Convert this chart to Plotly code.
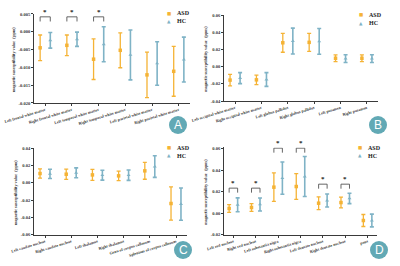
import plotly.graph_objects as go

# ---------------- data ----------------
cats_A = ["Left frontal white matter", "Right frontal white matter", "Left temporal white matter",
          "Right temporal white matter", "Left parietal white matter", "Right parietal white matter"]
asd_A = [-0.0045, -0.0038, -0.0077, -0.0052, -0.0121, -0.0111]
asd_A_sd = [0.0036, 0.0029, 0.0057, 0.0049, 0.0064, 0.0070]
hc_A = [-0.0024, -0.0021, -0.0035, -0.0065, -0.0089, -0.0078]
hc_A_sd = [0.0022, 0.0020, 0.0049, 0.0070, 0.0061, 0.0063]
sig_A = [0, 1, 2]
sig_A_top = [0.0042, 0.0042, 0.0042]
ticks_A = [0.005, 0.0, -0.005, -0.010, -0.015, -0.020]
ticktext_A = ["0.005", "0.000", "-0.005", "-0.010", "-0.015", "-0.020"]

cats_B = ["Left occipital white matter", "Right occipital white matter", "Left globus pallidus",
          "Right globus pallidus", "Left putamen", "Right putamen"]
asd_B = [-0.0157, -0.0154, 0.0277, 0.0282, 0.0097, 0.0097]
asd_B_sd = [0.0067, 0.0056, 0.0110, 0.0104, 0.0040, 0.0040]
hc_B = [-0.0134, -0.0150, 0.0297, 0.0293, 0.0092, 0.0093]
hc_B_sd = [0.0064, 0.0080, 0.0150, 0.0150, 0.0045, 0.0045]
ticks_B = [0.06, 0.04, 0.02, 0.0, -0.02, -0.04]
ticktext_B = ["0.06", "0.04", "0.02", "0.00", "-0.02", "-0.04"]

cats_C = ["Left caudate nucleus", "Right caudate nucleus", "Left thalamus", "Right thalamus",
          "Genu of corpus callosum", "Splenium of corpus callosum"]
asd_C = [0.0108, 0.0100, 0.0092, 0.0081, 0.0139, -0.0239]
asd_C_sd = [0.0054, 0.0060, 0.0063, 0.0055, 0.0097, 0.0193]
hc_C = [0.0104, 0.0116, 0.0089, 0.0089, 0.0189, -0.0246]
hc_C_sd = [0.0054, 0.0057, 0.0057, 0.0060, 0.0125, 0.0187]
ticks_C = [0.04, 0.02, 0.0, -0.02, -0.04, -0.06]
ticktext_C = ["0.04", "0.02", "0.00", "-0.02", "-0.04", "-0.06"]

cats_D = ["Left red nucleus", "Right red nucleus", "Left substantia nigra", "Right substantia nigra",
          "Left dentate nucleus", "Right dentate nucleus", "pons"]
asd_D = [0.0044, 0.0053, 0.0242, 0.0248, 0.0093, 0.0099, -0.0068]
asd_D_sd = [0.0036, 0.0036, 0.0133, 0.0120, 0.0059, 0.0050, 0.0056]
hc_D = [0.0078, 0.0081, 0.0326, 0.0341, 0.0118, 0.0137, -0.0068]
hc_D_sd = [0.0064, 0.0060, 0.0150, 0.0186, 0.0060, 0.0048, 0.0059]
sig_D = [0, 1, 2, 3, 4, 5]
sig_D_top = [0.0233, 0.0233, 0.0605, 0.0605, 0.0270, 0.0270]
ticks_D = [0.06, 0.04, 0.02, 0.0, -0.02]
ticktext_D = ["0.06", "0.04", "0.02", "0.00", "-0.02"]

groups = ["ASD", "HC"]
panel_letters = ["A", "B", "C", "D"]

# ---------------- style ----------------
ASD_COLOR = "#F5B335"
HC_COLOR = "#7FB3C6"
AX_COLOR = "#3a3a3a"
SERIF = "Liberation Serif, Times New Roman, serif"
OFF = 0.19

panels = [
    dict(cats=cats_A, asd=asd_A, asd_sd=asd_A_sd, hc=hc_A, hc_sd=hc_A_sd, sig=sig_A, sig_top=sig_A_top,
         leg=0.0013, ticks=ticks_A, tt=ticktext_A, yr=[-0.020, 0.005],
         xd=[0.085, 0.475], yd=[0.6128, 0.9474], legpos=(169, 13)),
    dict(cats=cats_B, asd=asd_B, asd_sd=asd_B_sd, hc=hc_B, hc_sd=hc_B_sd, sig=[], sig_top=[],
         leg=0.0, ticks=ticks_B, tt=ticktext_B, yr=[-0.04, 0.06],
         xd=[0.56, 0.945], yd=[0.6203, 0.9436], legpos=(361, 15)),
    dict(cats=cats_C, asd=asd_C, asd_sd=asd_C_sd, hc=hc_C, hc_sd=hc_C_sd, sig=[], sig_top=[],
         leg=0.0, ticks=ticks_C, tt=ticktext_C, yr=[-0.06, 0.04],
         xd=[0.085, 0.4675], yd=[0.1177, 0.4425], legpos=(169, 147.5)),
    dict(cats=cats_D, asd=asd_D, asd_sd=asd_D_sd, hc=hc_D, hc_sd=hc_D_sd, sig=sig_D, sig_top=sig_D_top,
         leg=0.0042, ticks=ticks_D, tt=ticktext_D, yr=[-0.02, 0.0612],
         xd=[0.56, 0.9425], yd=[0.1177, 0.4459], legpos=(360, 147.7)),
]

letter_pos = [(178, 125), (378, 125), (183, 250), (379, 250)]
legend_glyphs = ["■", "▲"]
legend_colors = [ASD_COLOR, HC_COLOR]

fig = go.Figure()
annotations = []
shapes = []

for k, p in enumerate(panels):
    sfx = "" if k == 0 else str(k + 1)
    xa, ya = "x" + sfx, "y" + sfx
    n = len(p["cats"])
    xs = list(range(n))
    fig.add_trace(go.Scatter(
        x=[i - OFF for i in xs], y=p["asd"], mode="markers", name=groups[0],
        xaxis=xa, yaxis=ya, showlegend=False,
        marker=dict(symbol="square", size=3.5, color=ASD_COLOR),
        error_y=dict(type="data", array=p["asd_sd"], color=ASD_COLOR, thickness=1.3, width=2),
        cliponaxis=False))
    fig.add_trace(go.Scatter(
        x=[i + OFF for i in xs], y=p["hc"], mode="markers", name=groups[1],
        xaxis=xa, yaxis=ya, showlegend=False,
        marker=dict(symbol="triangle-up", size=3.5, color=HC_COLOR),
        error_y=dict(type="data", array=p["hc_sd"], color=HC_COLOR, thickness=1.6, width=2),
        cliponaxis=False))
    # significance brackets
    for gi, top in zip(p["sig"], p["sig_top"]):
        fig.add_trace(go.Scatter(
            x=[gi - OFF, gi - OFF, gi + OFF, gi + OFF],
            y=[top - p["leg"], top, top, top - p["leg"]],
            mode="lines", line=dict(color="#555555", width=0.9),
            xaxis=xa, yaxis=ya, showlegend=False, hoverinfo="skip"))
        annotations.append(dict(x=gi, y=top, xref=xa, yref=ya, text="*", showarrow=False,
                                yanchor="middle", yshift=5,
                                font=dict(family=SERIF, size=7, color="#222222", weight="bold")))
    fig.update_layout(**{
        "xaxis" + sfx: dict(domain=p["xd"], anchor=ya, range=[-0.42, n - 1 + 0.42],
                            tickvals=xs, ticktext=p["cats"], tickangle=-17,
                            showline=True, linecolor=AX_COLOR, linewidth=0.8,
                            ticks="outside", ticklen=2, tickwidth=0.8, tickcolor=AX_COLOR,
                            showgrid=False, zeroline=False, automargin=False,
                            tickfont=dict(family=SERIF, size=4, color="#333333", weight="bold")),
        "yaxis" + sfx: dict(domain=p["yd"], anchor=xa, range=p["yr"],
                            tickvals=p["ticks"], ticktext=p["tt"],
                            showline=True, linecolor=AX_COLOR, linewidth=0.8,
                            ticks="outside", ticklen=2, tickwidth=0.8, tickcolor=AX_COLOR,
                            showgrid=False, zeroline=False, automargin=False,
                            tickfont=dict(family=SERIF, size=4.5, color="#333333", weight="bold"),
                            title=dict(text="magnetic susceptibility value（ppm）", standoff=3,
                                       font=dict(family=SERIF, size=4.2, color="#333333", weight="bold"))),
    })
    # manual legend (paper coordinates)
    lx, ly = p["legpos"]
    for j in range(2):
        yy = ly + j * 8.2
        annotations.append(dict(x=lx / 400, y=1 - yy / 266, xref="paper", yref="paper",
                                text=legend_glyphs[j], showarrow=False, xanchor="center", yanchor="middle",
                                font=dict(family="DejaVu Sans", size=4.5, color=legend_colors[j])))
        annotations.append(dict(x=(lx + 5.5) / 400, y=1 - yy / 266, xref="paper", yref="paper",
                                text=groups[j], showarrow=False, xanchor="left", yanchor="middle",
                                font=dict(family=SERIF, size=6, color="#222222", weight="bold")))
    cx, cy = letter_pos[k]
    r = 9
    shapes.append(dict(type="circle", xref="paper", yref="paper",
                       x0=(cx - r) / 400, x1=(cx + r) / 400,
                       y0=1 - (cy + r) / 266, y1=1 - (cy - r) / 266,
                       fillcolor="#62A9B5", line=dict(width=0)))
    annotations.append(dict(x=cx / 400, y=1 - cy / 266, xref="paper", yref="paper",
                            text=panel_letters[k], showarrow=False, xanchor="center", yanchor="middle",
                            font=dict(family="Liberation Sans, Arial, sans-serif", size=12, color="white")))

fig.update_layout(width=400, height=266, margin=dict(l=0, r=0, t=0, b=0),
                  paper_bgcolor="white", plot_bgcolor="white",
                  annotations=annotations, shapes=shapes, showlegend=False)

fig.write_html("out.html", config={"displayModeBar": False},
               post_script="document.body.style.margin='0';document.body.style.overflow='hidden';")
